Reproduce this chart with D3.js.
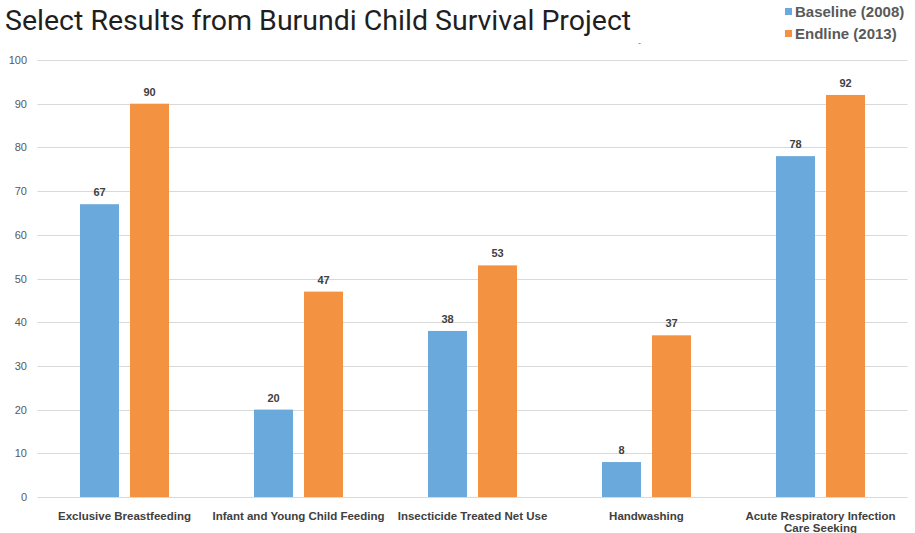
<!DOCTYPE html>
<html><head><meta charset="utf-8">
<script src="https://cdn.jsdelivr.net/npm/d3@7"></script>
<style>body{margin:0;background:#fff}svg{display:block}</style>
</head><body>
<script>
const categories = ["Exclusive Breastfeeding","Infant and Young Child Feeding","Insecticide Treated Net Use","Handwashing","Acute Respiratory Infection Care Seeking"];
const baseline = [67,20,38,8,78];
const endline = [90,47,53,37,92];
const seriesNames = ["Baseline (2008)","Endline (2013)"];
const colors = ["#6aa9db","#f39241"];
const yTicks = [0,10,20,30,40,50,60,70,80,90,100];

const W=915,H=533;
const svg=d3.select("body").append("svg").attr("width",W).attr("height",H);
const x=d3.scaleBand().domain(categories).range([37.5,907.5]);
const y=d3.scaleLinear().domain([0,100]).range([497,60]);
const sub=d3.scaleBand().domain([0,1]).range([-44.5,44.5]).paddingInner(0.22);

svg.append("text").attr("x",5).attr("y",30).attr("font-family","Roboto, sans-serif").attr("font-size",28.5).attr("fill","#1f1f1f").text("Select Results from Burundi Child Survival Project");

// grid
const g=svg.append("g");
g.selectAll("line.grid").data(yTicks).join("line").attr("x1",37.5).attr("x2",907.5)
 .attr("y1",d=>Math.round(y(d))+0.5).attr("y2",d=>Math.round(y(d))+0.5).attr("stroke","#d9d9d9").attr("stroke-width",1);
g.selectAll("text.tick").data(yTicks).join("text").attr("x",27).attr("y",d=>y(d)+4).attr("text-anchor","end")
 .attr("font-family","Liberation Sans, Arial, sans-serif").attr("font-size",11).attr("fill","#595959").text(d=>d);

const series=[baseline,endline];
series.forEach((vals,si)=>{
  const cx=c=>x(c)+x.bandwidth()/2;
  svg.append("g").selectAll("rect").data(categories).join("rect")
   .attr("x",(c)=>cx(c)+sub(si)).attr("width",sub.bandwidth())
   .attr("y",(c,i)=>y(vals[i])).attr("height",(c,i)=>y(0)-y(vals[i])).attr("fill",colors[si]);
  svg.append("g").selectAll("text").data(categories).join("text")
   .attr("x",c=>cx(c)+sub(si)+sub.bandwidth()/2).attr("y",(c,i)=>y(vals[i])-8)
   .attr("text-anchor","middle").attr("font-family","Liberation Sans, Arial, sans-serif").attr("font-weight","bold")
   .attr("font-size",11).attr("fill","#404040").text((c,i)=>vals[i]);
});

// category labels
const lab=svg.append("g").selectAll("text").data(categories).join("text")
 .attr("x",c=>x(c)+x.bandwidth()/2).attr("y",520).attr("text-anchor","middle")
 .attr("font-family","Liberation Sans, Arial, sans-serif").attr("font-weight","bold").attr("font-size",11.5).attr("fill","#404040");
lab.each(function(c){
  const t=d3.select(this);
  if(c.startsWith("Acute")){
    t.append("tspan").attr("x",x(c)+x.bandwidth()/2).text("Acute Respiratory Infection");
    t.append("tspan").attr("x",x(c)+x.bandwidth()/2).attr("dy",12).text("Care Seeking");
  } else t.text(c);
});

// legend
const leg=svg.append("g");
seriesNames.forEach((n,i)=>{
  leg.append("rect").attr("x",785).attr("y",8+i*22).attr("width",7).attr("height",7).attr("fill",colors[i]);
  leg.append("text").attr("x",795).attr("y",17+i*22).attr("font-family","Liberation Sans, Arial, sans-serif").attr("font-weight","bold")
   .attr("font-size",15).attr("fill","#595959").text(n);
});
svg.append("text").attr("x",638).attr("y",46).attr("font-family","Liberation Sans, Arial, sans-serif").attr("font-size",9).attr("fill","#777").text("-");
</script>
</body></html>
